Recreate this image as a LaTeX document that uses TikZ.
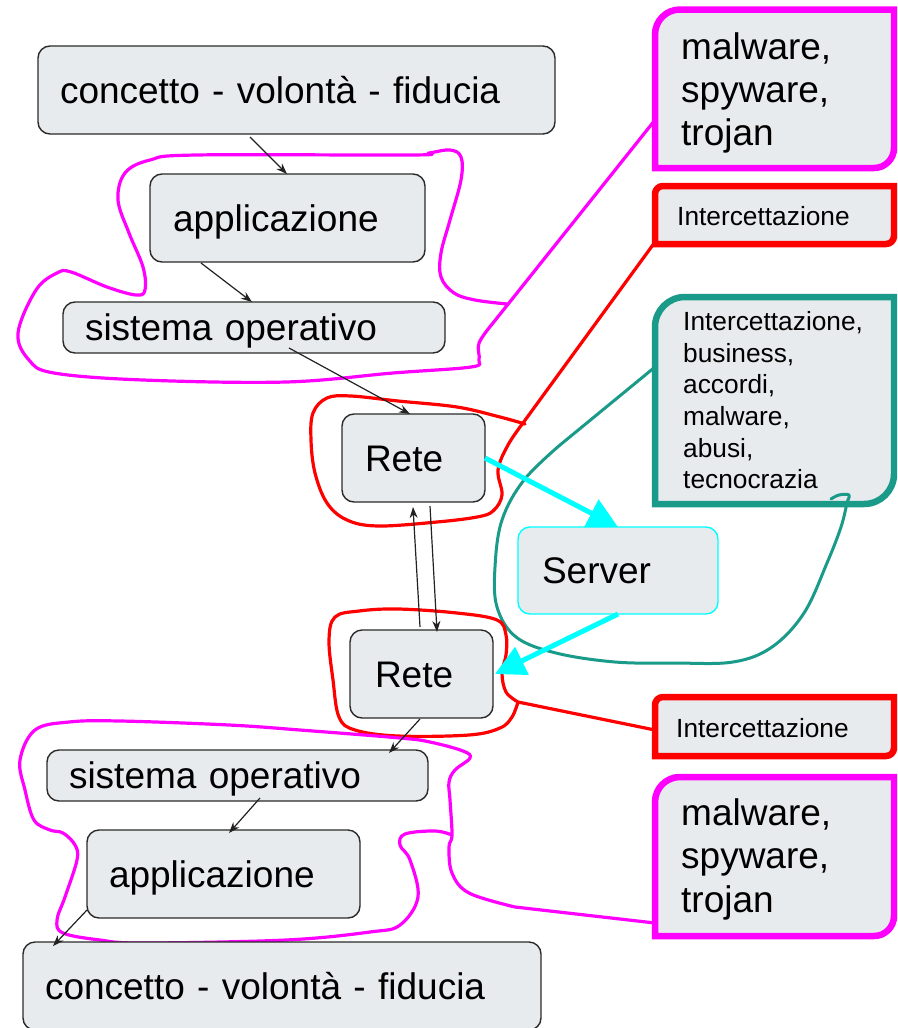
\documentclass[tikz,border=0pt]{standalone}
\usepackage{fontspec}
\setmainfont{Liberation Sans}
\usetikzlibrary{arrows.meta,calc}
\definecolor{boxfill}{HTML}{E8EBED}
\definecolor{boxline}{HTML}{2B2B2B}
\definecolor{magc}{HTML}{FF00FF}
\definecolor{redc}{HTML}{FF0000}
\definecolor{tealc}{HTML}{1A9A88}
\definecolor{cyanc}{HTML}{00FFFF}
\definecolor{arrc}{HTML}{222222}
\newcommand\fbig{\fontsize{37}{44}\selectfont}
\newcommand\fsmall{\fontsize{26.3}{31.6}\selectfont}
\begin{document}
\begin{tikzpicture}[x=1pt,y=-1pt,
 gbox/.style={draw=boxline,line width=1.4pt,fill=boxfill,rounded corners=12pt,anchor=north west,align=left,inner ysep=0pt,outer sep=0pt,text height=26.5pt,text depth=0pt,font=\fbig},
 arr/.style={draw=arrc,line width=1.2pt,-{Stealth[length=11pt,width=8pt]}},
 cyarr/.style={draw=cyanc,line width=5pt,-{Triangle[length=30pt,width=30pt]}},
 loopline/.style={line width=3.2pt,line join=round,line cap=round},
 rbox/.style={fill=boxfill,line width=6.5pt,line join=miter},
 bigtext/.style={anchor=base west,inner sep=0pt,font=\fbig},
 smalltext/.style={anchor=base west,inner sep=0pt,font=\fsmall}]
\useasboundingbox (0,0) rectangle (897,1028);
\clip (0,0) rectangle (897,1028);

% ---------- right boxes ----------
\filldraw[rbox,draw=magc] (655,168) -- (655,34.5) arc[start angle=180,end angle=90,radius=25pt] -- (894,9.5) -- (894,148) arc[start angle=0,end angle=-90,radius=20pt] -- cycle;
\node[bigtext] (m1a) at (681,59) {malware,};
\node[bigtext] (m1b) at (681,102) {spyware,};
\node[bigtext] (m1c) at (681,145) {trojan};
\coordinate (m1att) at (655,120);

\filldraw[rbox,draw=redc] (655,244) -- (655,194) arc[start angle=180,end angle=90,radius=8pt] -- (894,186) -- (894,236) arc[start angle=0,end angle=-90,radius=8pt] -- cycle;
\node[smalltext] (i1) at (677,225) {Intercettazione};
\coordinate (i1att) at (655,242);

\filldraw[rbox,draw=tealc] (655,504) -- (655,327) arc[start angle=180,end angle=90,radius=30pt] -- (894,297) -- (894,474) arc[start angle=0,end angle=-90,radius=30pt] -- cycle;
\node[smalltext] (t1a) at (683,330) {Intercettazione,};
\node[smalltext] (t1b) at (683,362) {business,};
\node[smalltext] (t1c) at (683,393) {accordi,};
\node[smalltext] (t1d) at (683,425) {malware,};
\node[smalltext] (t1e) at (683,457) {abusi,};
\node[smalltext] (t1f) at (683,488) {tecnocrazia};
\coordinate (t1att) at (655,367);

\filldraw[rbox,draw=redc] (655,756) -- (655,705) arc[start angle=180,end angle=90,radius=8pt] -- (894,697) -- (894,748) arc[start angle=0,end angle=-90,radius=8pt] -- cycle;
\node[smalltext] (i2) at (676,737) {Intercettazione};
\coordinate (i2att) at (655,730);

\filldraw[rbox,draw=magc] (655,936) -- (655,802) arc[start angle=180,end angle=90,radius=25pt] -- (894,777) -- (894,916) arc[start angle=0,end angle=-90,radius=20pt] -- cycle;
\node[bigtext] (m2a) at (681,825) {malware,};
\node[bigtext] (m2b) at (681,868) {spyware,};
\node[bigtext] (m2c) at (681,912) {trojan};
\coordinate (m2att) at (655,923);

% ---------- loops ----------
\draw[loopline,draw=magc] (m1att) -- plot[smooth,tension=0.6] coordinates {(493,323) (479,343) (479,360) (471,367) (393,373) (286,382) (143,380) (54,373) (29,360) (18,333) (36,290) (57,273) (71,272) (107,287) (136,295) (145,290) (143,267) (129,233) (118,200) (125,173) (150,160) (196,155) (411,155) (429,153) (450,150) (461,157) (461,180) (450,220) (441,253) (441,277) (454,293) (475,300) (507,304)};

\draw[loopline,draw=redc] (i1att) -- plot[smooth,tension=0.6] coordinates {(523,423) (508,445) (498,470) (502,495) (493,511) (477,517) (437,522) (378,526) (347,520) (327,503) (315,473) (311,440) (313,413) (327,398) (351,396) (398,401) (457,407) (500,417) (525,424)};

\draw[loopline,draw=tealc,line width=3pt] (t1att) -- plot[smooth,tension=0.6] coordinates {(560,445) (524,480) (502,520) (495,567) (497,607) (516,637) (556,653) (615,662) (674,663) (733,662) (772,647) (804,613) (827,563) (841,527) (847,503) (849,495) (839,495) (831,499)};

\draw[loopline,draw=redc] (i2att) -- plot[smooth,tension=0.6] coordinates {(518,702) (512,717) (500,728) (469,735) (398,736) (355,730) (339,717) (333,680) (329,640) (335,617) (359,611) (398,609) (457,613) (497,620) (506,635) (506,655) (502,673) (506,692) (518,702)};

\draw[loopline,draw=magc] (m2att) -- plot[smooth,tension=0.6] coordinates {(515,907) (469,893) (452,873) (449,847) (452,835) (450,800) (449,782) (455,770) (470,758) (463,751) (430,742) (400,738) (300,730) (229,725) (120,721) (69,722) (35,730) (20,760) (25,790) (34,820) (50,830) (63,833) (75,845) (77,860) (65,897) (57,920) (63,933) (100,940) (143,943) (286,940) (370,932) (400,925) (418,897) (410,860) (400,845) (405,834) (435,831) (452,835)};

% ---------- gray boxes ----------
\node[gbox,minimum width=517pt,minimum height=88pt,text width=473pt,inner xsep=22pt] (c1) at (38,46) {concetto - volontà - fiducia};
\node[gbox,minimum width=275pt,minimum height=88pt,text width=229pt,inner xsep=23pt] (a1) at (150,174) {applicazione};
\node[gbox,minimum width=382pt,minimum height=51pt,text width=338pt,inner xsep=22pt] (s1) at (63,302) {sistema operativo};
\node[gbox,minimum width=143pt,minimum height=88pt,text width=97pt,inner xsep=23pt] (r1) at (342,414) {Rete};
\node[gbox,draw=cyanc,minimum width=200pt,minimum height=87pt,text width=152pt,inner xsep=24pt] (sv) at (518,527) {Server};
\node[gbox,minimum width=143pt,minimum height=88pt,text width=93pt,inner xsep=25pt] (r2) at (350,630) {Rete};
\node[gbox,minimum width=381pt,minimum height=51pt,text width=337pt,inner xsep=22pt] (s2) at (47,750) {sistema operativo};
\node[gbox,minimum width=273pt,minimum height=88pt,text width=229pt,inner xsep=22pt] (a2) at (87,830) {applicazione};
\node[gbox,minimum width=518pt,minimum height=88pt,text width=474pt,inner xsep=22pt] (c2) at (23,942) {concetto - volontà - fiducia};

% ---------- connectors ----------
\draw[arr] ($(c1.south west)+(212,3)$) -- ($(a1.north west)+(137,0)$);
\draw[arr] ($(a1.south west)+(51,1)$) -- ($(s1.north west)+(189,0)$);
\draw[arr] ($(s1.south west)+(226,-5)$) -- ($(r1.north west)+(68,0)$);
\draw[arr] ($(r2.north west)+(70,-3)$) -- ($(r1.south west)+(71,5)$);
\draw[arr] ($(r1.south west)+(88,4)$) -- ($(r2.north west)+(87,2)$);
\draw[cyarr] (r1.east) -- (sv.north);
\draw[cyarr] (sv.south) -- ($(r2.east)+(2,0)$);
\draw[arr] ($(r2.south west)+(70,1)$) -- ($(s2.north west)+(342,3)$);
\draw[arr] ($(s2.south west)+(213,-3)$) -- ($(a2.north west)+(142,3)$);
\draw[arr] ($(a2.south west)+(0,-8)$) -- ($(c2.north west)+(30,4)$);
\end{tikzpicture}
\end{document}
